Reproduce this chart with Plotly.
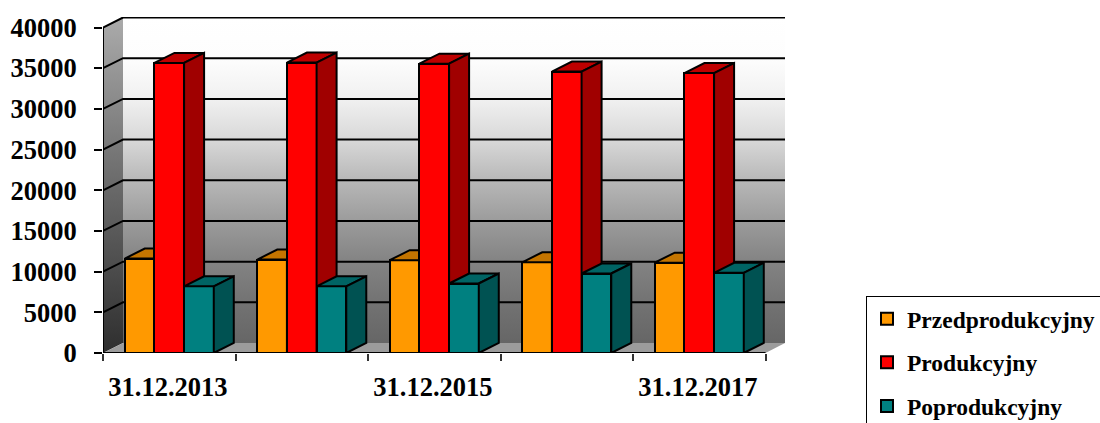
import plotly.graph_objects as go

DATES = ["31.12.2013", "31.12.2014", "31.12.2015", "31.12.2016", "31.12.2017"]
SHOWN_LABELS = ["31.12.2013", "31.12.2015", "31.12.2017"]
Y_TICKS = [0, 5000, 10000, 15000, 20000, 25000, 30000, 35000, 40000]
Y_LABELS = ["0", "5000", "10000", "15000", "20000", "25000", "30000", "35000", "40000"]
PRZED = [11600, 11480, 11400, 11150, 11100]
PROD = [35650, 35690, 35560, 34580, 34400]
POPROD = [8200, 8200, 8540, 9770, 9850]

SERIES = [
    ("Przedprodukcyjny", PRZED, "#FF9900", "#C47500", "#A86400"),
    ("Produkcyjny", PROD, "#FF0000", "#BE0000", "#A00000"),
    ("Poprodukcyjny", POPROD, "#008080", "#006464", "#005252"),
]

FONT = "Liberation Serif"
W, H = 1100, 423
L, R, T, B = 103, 785, 17, 353
PX_X = 132.5      # pixels per category
PX_Y = 8.1375 / 1000  # pixels per value unit
DX, DY = 20 / PX_X, 10 / PX_Y
XMAX = (R - L) / PX_X
YMAX = (B - T) / PX_Y
N = len(DATES)
BW = 0.224
START = 0.164

fig = go.Figure()

def poly(xs, ys, fill, xa="x", ya="y", line=True, grad=None):
    kw = dict(x=xs, y=ys, mode="lines", fill="toself", showlegend=False,
              hoverinfo="skip", xaxis=xa, yaxis=ya, cliponaxis=False,
              line=dict(color="#000000", width=2 if line else 0))
    if grad:
        kw["fillgradient"] = dict(type="vertical", colorscale=grad)
    else:
        kw["fillcolor"] = fill
    fig.add_trace(go.Scatter(**kw))

# back wall, side wall, floor
poly([DX, XMAX, XMAX, DX, DX], [DY, DY, YMAX, YMAX, DY], None, line=False,
     grad=[[0, "#666666"], [0.12, "#727272"], [0.255, "#848484"], [0.377, "#9c9c9c"],
           [0.5, "#b8b8b8"], [0.623, "#d8d8d8"], [0.745, "#f0f0f0"], [0.87, "#fdfdfd"], [1, "#ffffff"]])
poly([0, DX, DX, 0, 0], [0, DY, YMAX, 40000, 0], None, line=False,
     grad=[[0, "#2e2e2e"], [0.5, "#6a6a6a"], [1, "#ababab"]])
poly([0, DX, XMAX, N, 0], [0, DY, DY, 0, 0], "#9c9c9c", line=False)

# grid lines
for v in Y_TICKS[1:]:
    fig.add_trace(go.Scatter(x=[0, DX, XMAX + 0.02], y=[v, v + DY, v + DY], mode="lines",
                             line=dict(color="#000000", width=2), showlegend=False,
                             hoverinfo="skip", cliponaxis=False))
# axis lines
fig.add_trace(go.Scatter(x=[0, 0, N], y=[40000, 0, 0], mode="lines",
                         line=dict(color="#000000", width=2), showlegend=False,
                         hoverinfo="skip", cliponaxis=False))

for s, (name, vals, front, top, side) in enumerate(SERIES):
    n = s + 2
    xa, ya = f"x{n}", f"y{n}"
    left = [i + START + s * BW for i in range(N)]
    fig.add_trace(go.Bar(x=[a + BW / 2 for a in left], y=vals, width=BW, name=name,
                         marker=dict(color=front, line=dict(color="#000000", width=2)),
                         xaxis=xa, yaxis=ya, showlegend=False, cliponaxis=False))
    for a, v in zip(left, vals):
        poly([a, a + DX, a + BW + DX, a + BW, a], [v, v + DY, v + DY, v, v], top, xa, ya)
        poly([a + BW, a + BW + DX, a + BW + DX, a + BW, a + BW], [v, v + DY, DY, 0, v], side, xa, ya)
    fig.add_trace(go.Scatter(x=[None], y=[None], mode="markers", name=name,
                             marker=dict(symbol="square", size=12, color=front,
                                         line=dict(color="#000000", width=2)),
                             legendgroup=name, xaxis=xa, yaxis=ya))

layout = dict(
    width=W, height=H, paper_bgcolor="#ffffff", plot_bgcolor="#ffffff",
    margin=dict(l=L, r=W - R, t=T, b=H - B, pad=0, autoexpand=False),
    font=dict(family=FONT, color="#000000"),
    showlegend=True, bargap=0,
    legend=dict(x=(866 - L) / (R - L), y=(B - 296) / (B - T), xanchor="left", yanchor="top",
                bgcolor="#ffffff", bordercolor="#000000", borderwidth=1,
                font=dict(family=FONT, size=23.5, weight="bold"),
                tracegroupgap=10, itemwidth=30),
    xaxis=dict(range=[0, XMAX], tickmode="array", tickvals=list(range(N + 1)), ticktext=[""] * (N + 1),
               ticks="outside", ticklen=7, tickwidth=1.5, tickcolor="#333333", showgrid=False,
               zeroline=False, showline=False),
    yaxis=dict(range=[0, YMAX], tickmode="array", tickvals=Y_TICKS, ticktext=Y_LABELS, ticks="outside",
               ticklen=8, tickwidth=2, tickcolor="#000000", showgrid=False, zeroline=False, showline=False,
               tickfont=dict(family=FONT, size=26.5, weight="bold"), ticklabelstandoff=12),
)
for n in (2, 3, 4):
    xd = dict(range=[0, XMAX], overlaying="x", showgrid=False, zeroline=False, showline=False, visible=False)
    if n == 2:
        xd.update(visible=True, tickmode="array", tickvals=[0.49, 2.49, 4.49], ticktext=SHOWN_LABELS,
                  ticks="outside", ticklen=10, tickcolor="rgba(0,0,0,0)",
                  tickfont=dict(family=FONT, size=26.5, weight="bold"))
    layout[f"xaxis{n}"] = xd
    layout[f"yaxis{n}"] = dict(range=[0, YMAX], overlaying="y", visible=False)
fig.update_layout(**layout)
fig.write_html("out.html", config={"displayModeBar": False},
               post_script="document.body.style.margin='0';document.body.style.overflow='hidden';")
